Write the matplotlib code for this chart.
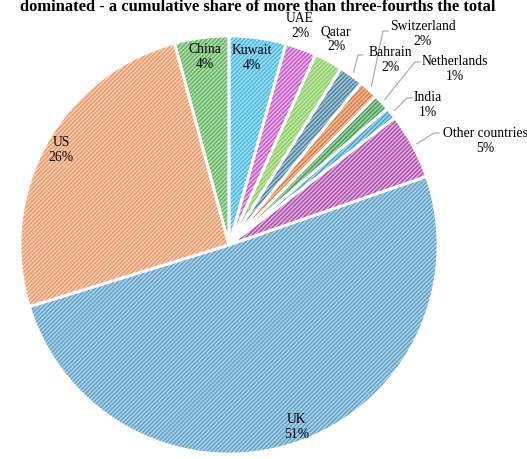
import numpy as np
import matplotlib
matplotlib.use('Agg')
import matplotlib.pyplot as plt

# share of total (%), clockwise from 12 o'clock
countries = ['Kuwait', 'UAE', 'Qatar', 'Bahrain', 'Switzerland', 'Netherlands',
             'India', 'Other countries', 'UK', 'US', 'China']
shares = [4.4, 2.4, 2.2, 1.9, 1.5, 1.3, 0.9, 5.1, 50.6, 25.6, 4.2]

title = 'dominated - a cumulative share of more than three-fourths the total'

# light background / stripe colour per slice
base_cols = ['#a6def5', '#e8b3e8', '#c4e8aa', '#a9c7d6', '#f2c0a0', '#a6d3aa',
             '#a8d6ea', '#e2b2e0', '#afd4e8', '#fcd4bc', '#b5dfb0']
line_cols = ['#3fb8e6', '#c456c6', '#86cf5c', '#467f9d', '#d8793f', '#3f9a4c',
             '#3b9fcb', '#a94aaa', '#5b9ec9', '#f2925f', '#5cb35c']

# label centres in pixels, leader start (None = no leader)
label_px = [(252, 58), (300, 26), (336, 39), (390, 60), (423, 34), (455, 69),
            (428, 105), (485, 141), (297, 427), (61, 150), (205, 57)]
leader_px = [None, None, None, (363, 55), (388, 31), (420, 62),
             (412, 98), (439, 133), None, None, None]

W, H = 527, 459
cx, cy, R = 229, 245, 209

plt.rcParams['font.family'] = ['Liberation Serif', 'DejaVu Serif']
plt.rcParams['hatch.linewidth'] = 1.0

fig = plt.figure(figsize=(W / 100, H / 100), dpi=100)
ax = fig.add_axes([(cx - R) / W, (H - cy - R) / H, 2 * R / W, 2 * R / H])

wedges, _ = ax.pie(shares, startangle=90, counterclock=False, radius=1,
                   colors=base_cols)
for w, lc in zip(wedges, line_cols):
    w.set_hatch('////////')
    w.set_edgecolor(lc)
    w.set_linewidth(0)

# white borders on top
ax.pie(shares, startangle=90, counterclock=False, radius=1,
       colors=['none'] * len(shares),
       wedgeprops=dict(edgecolor='white', linewidth=2.0))

ax.set_xlim(-1, 1)
ax.set_ylim(-1, 1)
ax.set_aspect('equal')
ax.axis('off')


def to_data(p):
    return ((p[0] - cx) / R, (cy - p[1]) / R)


for w, name, val, lp, ld in zip(wedges, countries, shares, label_px, leader_px):
    tx, ty = to_data(lp)
    ax.text(tx, ty, '%s\n%.0f%%' % (name, val), ha='center', va='center',
            fontsize=9.8, linespacing=1.12, color='black')
    if ld is not None:
        mid = np.deg2rad((w.theta1 + w.theta2) / 2)
        ex, ey = 1.02 * np.cos(mid), 1.02 * np.sin(mid)
        sx, sy = to_data(ld)
        kx = sx - 5 / R
        ax.plot([sx, kx, ex], [sy, sy, ey], color='#a6a6a6', lw=0.8,
                clip_on=False)

fig.text(0.49, 1 - 7 / H, title, ha='center', va='center', fontsize=11.9,
         fontweight='bold', color='black')

fig.savefig('out.png', dpi=100)
